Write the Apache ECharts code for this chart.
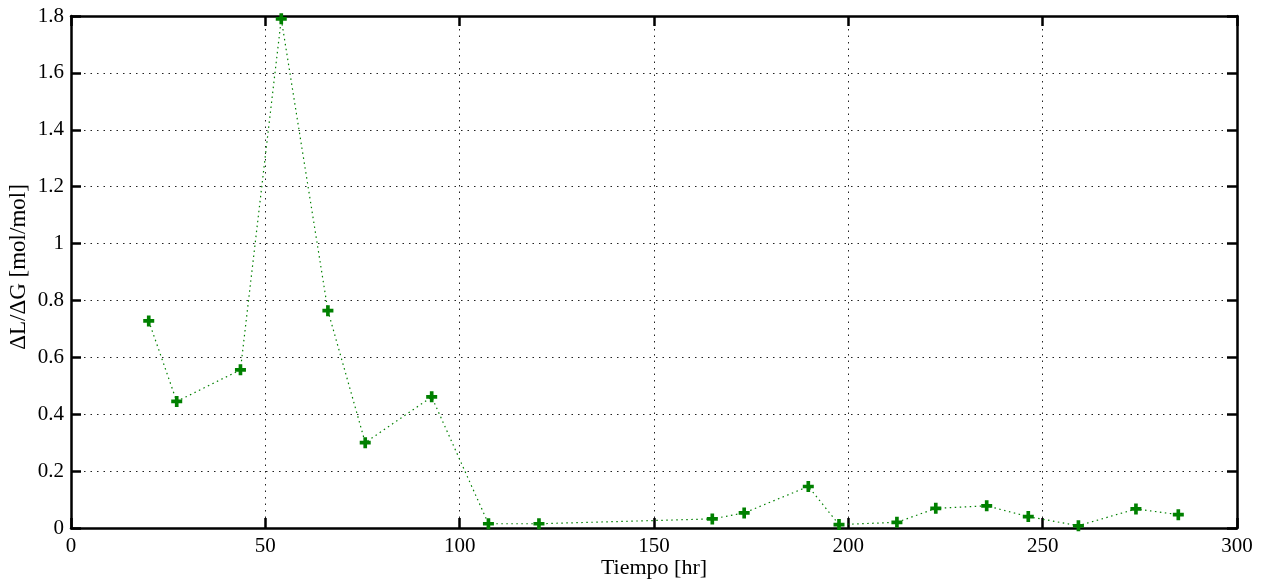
<!DOCTYPE html>
<html><head><meta charset="utf-8">
<script src="https://cdn.jsdelivr.net/npm/echarts@6/dist/echarts.min.js"></script>
<style>html,body{margin:0;padding:0;background:#fff}#c{width:1270px;height:585px}</style>
</head><body><div id="c"></div>
<script>
const tiempo = [20, 27.2, 43.6, 54.1, 66.1, 75.7, 92.8, 107.4, 120.4, 165, 173.2, 189.7, 197.6, 212.5, 222.5, 235.6, 246.3, 259.2, 274, 284.9];
const ratio  = [0.728, 0.445, 0.556, 1.79, 0.764, 0.300, 0.461, 0.015, 0.015, 0.032, 0.053, 0.146, 0.012, 0.020, 0.069, 0.078, 0.040, 0.008, 0.067, 0.047];
const xTitle = 'Tiempo [hr]';
const yTitle = 'ΔL/ΔG [mol/mol]';

const font = 'Liberation Serif';
const chart = echarts.init(document.getElementById('c'), null, {renderer: 'canvas'});
const plus = 'path://M-1,-3L1,-3L1,-1L3,-1L3,1L1,1L1,3L-1,3L-1,1L-3,1L-3,-1L-1,-1Z';
const axisLine = {show: true, onZero: false, lineStyle: {color: '#000', width: 2.5}};
const tick = {show: true, inside: true, length: 10, lineStyle: {color: '#000', width: 2.5}};
const split = {show: true, lineStyle: {color: '#222', width: 1, type: [1.5, 5]}};
const lbl = {color: '#000', fontFamily: font, fontSize: 21};
chart.setOption({
  animation: false,
  backgroundColor: '#fff',
  grid: {left: 71, right: 33, top: 16, bottom: 57, containLabel: false, outerBoundsMode: 'none'},
  xAxis: [
    {type: 'value', min: 0, max: 300, interval: 50, position: 'bottom',
     axisLine, axisTick: tick, splitLine: split,
     axisLabel: Object.assign({margin: 8}, lbl),
     name: xTitle, nameLocation: 'middle', nameGap: 29, nameMoveOverlap: false,
     nameTextStyle: {color: '#000', fontFamily: font, fontSize: 22}},
    {type: 'value', min: 0, max: 300, interval: 50, position: 'top',
     axisLine, axisTick: tick, splitLine: {show: false}, axisLabel: {show: false}}
  ],
  yAxis: [
    {type: 'value', min: 0, max: 1.8, interval: 0.2, position: 'left',
     axisLine, axisTick: tick, splitLine: split,
     axisLabel: Object.assign({margin: 7, formatter: v => String(+v.toFixed(1))}, lbl),
     name: yTitle, nameLocation: 'middle', nameGap: 41, nameRotate: 90, nameMoveOverlap: false,
     nameTextStyle: {color: '#000', fontFamily: font, fontSize: 23, padding: [0, 0, 0, 10]}},
    {type: 'value', min: 0, max: 1.8, interval: 0.2, position: 'right',
     axisLine, axisTick: tick, splitLine: {show: false}, axisLabel: {show: false}}
  ],
  series: [{
    type: 'line',
    data: tiempo.map((t, i) => [t, ratio[i]]),
    symbol: plus, symbolSize: 11,
    itemStyle: {color: '#008000'},
    lineStyle: {color: '#008000', width: 1.2, type: [1.5, 3.5]},
    z: 5
  }]
});
</script></body></html>
